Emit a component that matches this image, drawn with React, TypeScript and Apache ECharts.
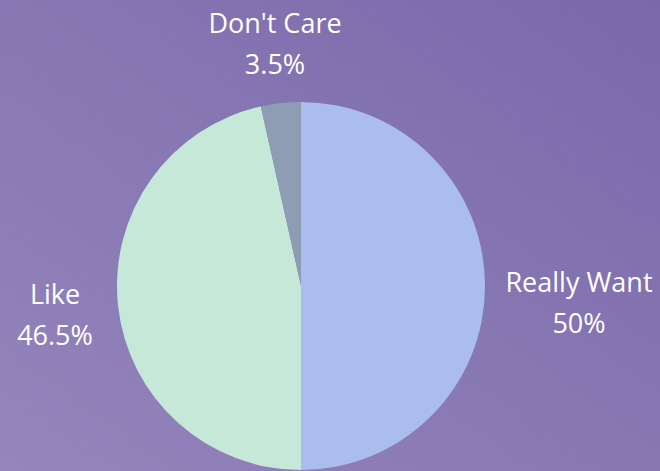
import React, { useEffect, useRef } from "react";
import * as echarts from "echarts";

const categories = ["Really Want", "Like", "Don't Care"];
const values = [50, 46.5, 3.5];
const colors = ["#abbdef", "#c5e8d8", "#8e9db3"];
// label anchor points (centre of each label block), in pixels
const labelAnchors: [number, number][] = [
  [579, 302],
  [55, 314],
  [275, 43],
];

export default function App() {
  const ref = useRef<HTMLDivElement>(null);
  useEffect(() => {
    document.body.style.margin = "0";
    const chart = echarts.init(ref.current!, undefined, { renderer: "svg" });
    chart.setOption({
      animation: false,
      backgroundColor: "transparent",
      series: [
        {
          type: "pie",
          center: [301, 286],
          radius: 184,
          startAngle: 90,
          clockwise: true,
          data: categories.map((c, i) => ({
            name: c,
            value: values[i],
            itemStyle: { color: colors[i] },
          })),
          label: {
            show: true,
            position: "outside",
            formatter: (p: any) => `${p.name}\n${p.value}%`,
            color: "#ffffff",
            fontFamily: "Open Sans",
            fontSize: 27,
            lineHeight: 41,
            align: "center",
            overflow: "none",
            width: 300,
          },
          labelLine: { show: false },
          labelLayout: (params: any) => {
            const a = labelAnchors[params.dataIndex];
            return { x: a[0], y: a[1], align: "center", verticalAlign: "middle" };
          },
          emphasis: { disabled: true },
        },
      ],
    });
    return () => chart.dispose();
  }, []);
  return (
    <div
      ref={ref}
      style={{
        position: "absolute",
        left: 0,
        top: 0,
        width: 660,
        height: 471,
        background: "linear-gradient(to top right, #9485bc, #7a69aa)",
      }}
    />
  );
}
